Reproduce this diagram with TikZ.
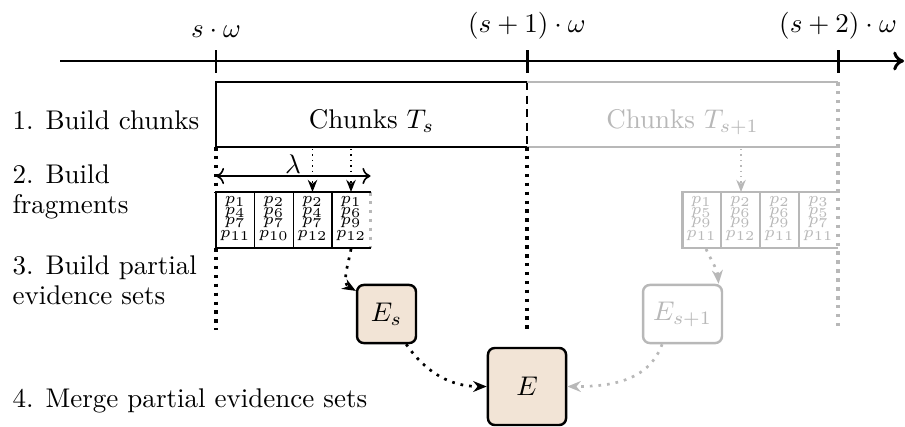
\documentclass[tikz,border=0pt]{standalone}
\usetikzlibrary{arrows.meta}
\definecolor{efill}{HTML}{F2E4D6}
\colorlet{lg}{black!28}
\begin{document}
\begin{tikzpicture}[x=0.37pt,y=-0.37pt,
  thickline/.style={line width=1.1pt},
  vdots/.style={line width=1.3pt, dash pattern=on 1.3pt off 2pt},
  cellsep/.style={line width=0.5pt},
  pnode/.style={font=\fontsize{6.3}{7}\selectfont, inner sep=0pt, anchor=base},
  evset/.style={draw, line width=0.9pt, rounded corners=2.5pt, fill=efill, minimum height=21.5pt, minimum width=21.8pt, inner sep=0pt},
  darr/.style={line width=1pt, dash pattern=on 1pt off 2.2pt, -{Stealth[length=5pt,width=4pt]}},
  fdarr/.style={line width=0.5pt, dash pattern=on 0.5pt off 1.5pt, -{Stealth[length=4.5pt,width=3.5pt]}},
  stepl/.style={anchor=base west, align=left, font=\fontsize{10}{10.8}\selectfont, inner sep=0pt},
  ticklab/.style={anchor=south, inner sep=0pt},
  ]
\useasboundingbox (0,0) rectangle (905,426);

% time axis
\coordinate (ax0) at (60,61);
\coordinate (ax1) at (904,61);
\draw[thickline,-{To[length=4pt,width=7pt]}] (ax0) -- (ax1);
\foreach \x in {216,527,838} \draw[thickline] (\x,50) -- (\x,73);
\node[ticklab] (t0) at (216,38.5) {$s\cdot\omega$};
\node[ticklab] (t1) at (527,40) {$(s+1)\cdot\omega$};
\node[ticklab] (t2) at (838,40) {$(s+2)\cdot\omega$};

% step labels
\node[stepl] (l1) at (12,129) {1. Build chunks};
\node[stepl] (l2) at (12,213) {2. Build\\fragments};
\node[stepl] (l3) at (12,304) {3. Build partial\\evidence sets};
\node[stepl] (l4) at (12,407) {4. Merge partial evidence sets};

% chunks
\draw[thickline] (527,82) -- (216,82) -- (216,147) -- (527,147);
\draw[line width=0.6pt, densely dashed] (527,82) -- (527,147);
\node[anchor=base] (ts) at (371.5,128) {Chunks $T_s$};
\draw[thickline, lg] (527,82) -- (838,82);
\draw[thickline, lg] (527,147) -- (838,147);
\node[anchor=base, text=lg] (ts1) at (682.5,128) {Chunks $T_{s+1}$};

% vertical dotted separators
\draw[vdots] (216,147) -- (216,192);
\draw[vdots] (216,248) -- (216,330);
\draw[vdots] (527,147) -- (527,330);
\draw[vdots, lg] (838,82) -- (838,330);
\draw[vdots, lg] (370.5,192) -- (370.5,248);

% fragments of T_s
\draw[thickline] (370.5,192) -- (216,192) -- (216,248) -- (370.5,248);
\foreach \x in {254.6,293.2,331.9} \draw[cellsep] (\x,192) -- (\x,248);
\foreach \i/\a/\b/\c/\d in {1/1/4/7/11,2/2/6/7/10,3/2/4/7/12,4/1/6/9/12}{
  \node[pnode] (pa\i) at ({216+38.6*(\i-0.5)},203.5) {$p_{\a}$};
  \node[pnode] (pb\i) at ({216+38.6*(\i-0.5)},214) {$p_{\b}$};
  \node[pnode] (pc\i) at ({216+38.6*(\i-0.5)},224.5) {$p_{\c}$};
  \node[pnode] (pd\i) at ({216+38.6*(\i-0.5)},237.5) {$p_{\d}$};
}
\draw[line width=0.6pt, {To[length=3pt,width=6pt]}-{To[length=3pt,width=6pt]}] (216,176) -- (370.5,176);
\node[anchor=base, inner sep=0pt] (lam) at (293,173) {$\lambda$};
\coordinate (d1a) at (312.5,149); \coordinate (d1b) at (312.5,192);
\coordinate (d2a) at (351,149); \coordinate (d2b) at (351,192);
\draw[fdarr] (d1a) -- (d1b);
\draw[fdarr] (d2a) -- (d2b);

% fragments of T_{s+1}
\draw[thickline, lg] (838,192) -- (682,192) -- (682,248) -- (838,248);
\foreach \x in {721,760,799} \draw[cellsep, lg] (\x,192) -- (\x,248);
\foreach \i/\a/\b/\c/\d in {1/1/5/9/11,2/2/6/9/12,3/2/6/9/11,4/3/5/7/11}{
  \node[pnode, text=lg] (qa\i) at ({682+39*(\i-0.5)},203.5) {$p_{\a}$};
  \node[pnode, text=lg] (qb\i) at ({682+39*(\i-0.5)},214) {$p_{\b}$};
  \node[pnode, text=lg] (qc\i) at ({682+39*(\i-0.5)},224.5) {$p_{\c}$};
  \node[pnode, text=lg] (qd\i) at ({682+39*(\i-0.5)},237.5) {$p_{\d}$};
}
\coordinate (g1a) at (741,149); \coordinate (g1b) at (741,192);
\draw[fdarr, lg] (g1a) -- (g1b);

% evidence sets
\node[evset] (Es) at (386.5,314) {$E_s$};
\node[evset, minimum width=28.9pt, minimum height=28.5pt] (E) at (527,386.5) {$E$};
\node[evset, draw=lg, fill=white, text=lg, minimum width=29.2pt] (Es1) at (682.5,314) {$E_{s+1}$};

\coordinate (fs) at (351,249);
\coordinate (gfs) at (706,249);
\draw[darr] (fs) to[out=-100, in=150] (Es.143);
\draw[darr] (Es.-57) to[out=-55, in=180] (E.west);
\draw[darr, lg] (gfs) to[out=-65, in=95] (Es1.40);
\draw[darr, lg] (Es1.-124) to[out=-110, in=0] (E.east);
\end{tikzpicture}
\end{document}
